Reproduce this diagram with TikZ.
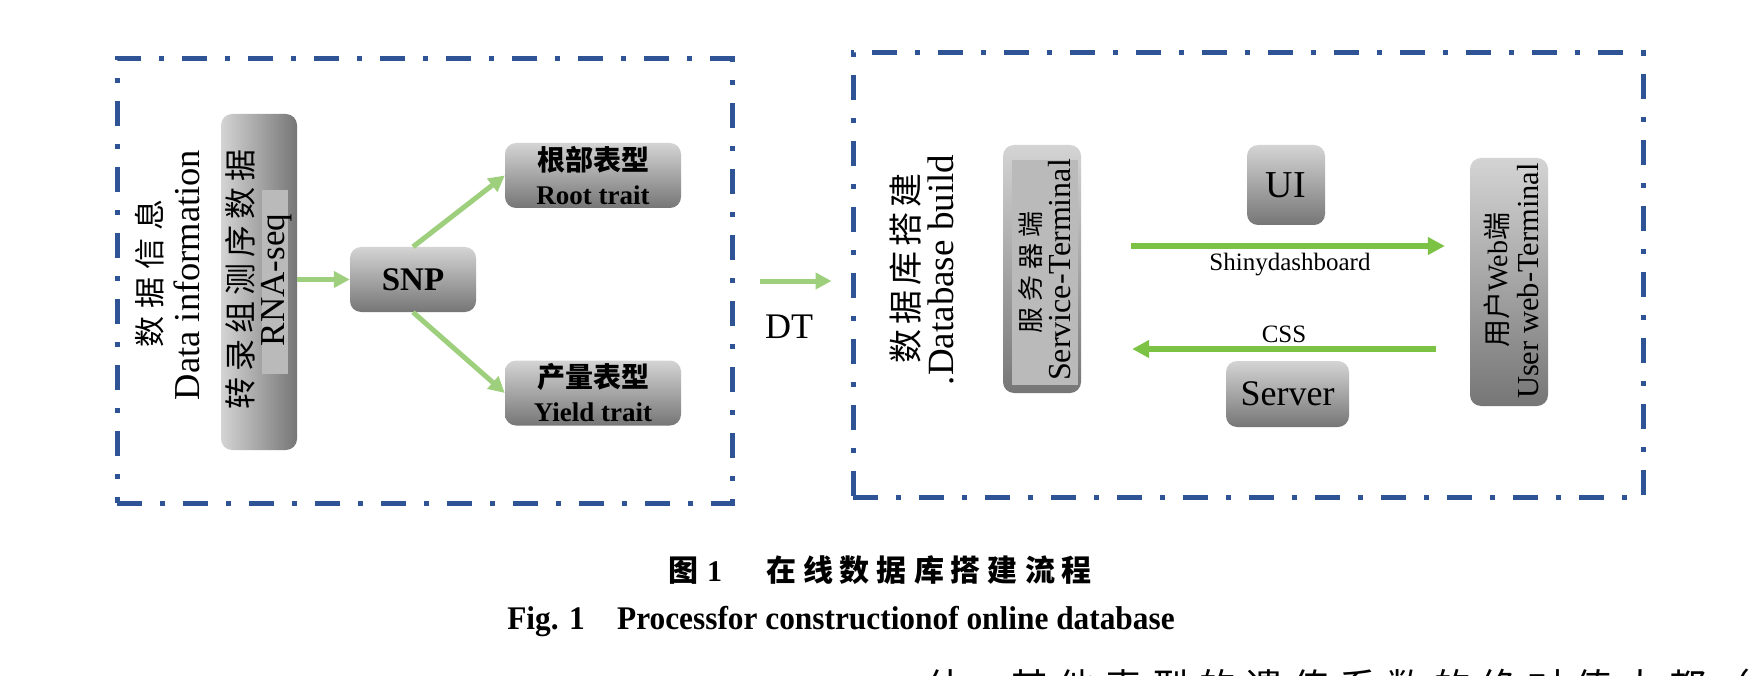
\documentclass[tikz,border=0pt]{standalone}
\usepackage{fontspec}
\setmainfont{Liberation Serif}
\newfontfamily\cjk{Noto Sans CJK SC}
\usetikzlibrary{arrows.meta}
\definecolor{dblue}{RGB}{46,84,150}
\definecolor{gL}{RGB}{158,207,124}
\definecolor{gR}{RGB}{124,194,68}
\definecolor{btop}{RGB}{212,212,212}
\definecolor{bbot}{RGB}{118,118,118}
\definecolor{binner}{RGB}{186,186,186}
\newcommand{\fs}[1]{\fontsize{#1}{#1}\selectfont}
\tikzset{
  dbox/.style={draw=dblue, line width=5pt, dash pattern=on 25pt off 18pt on 5pt off 18pt, inner sep=0pt},
  gbox/.style={rounded corners=11pt, top color=btop, bottom color=bbot, inner sep=0pt},
  hbox/.style={rounded corners=11pt, left color=btop, right color=bbot, inner sep=0pt},
  arrL/.style={draw=gL, line width=5pt, -{Triangle[length=16pt,width=16pt]}},
  arrR/.style={draw=gR, line width=6pt, -{Triangle[length=17pt,width=17pt]}},
  vt/.style={rotate=90, inner sep=0pt},
  lbl/.style={inner sep=0pt},
  trait/.style={gbox, minimum width=176pt, minimum height=65pt, align=center, font=\fontsize{27}{34}\selectfont},
}
\begin{document}
\begin{tikzpicture}[x=1pt,y=-1pt]
\useasboundingbox[fill=white] (0,0) rectangle (1755,676);

% ---------- left block ----------
\node[dbox, minimum width=615pt, minimum height=444pt] (lbox) at (424.5,281) {};
\node[vt] (t1) at (150,273) {\cjk\fs{31}数\kern8pt据\kern8pt信\kern8pt息};
\node[vt] (t2) at (187,275) {\fs{36.5}Data information};

\node[hbox, minimum width=76pt, minimum height=336pt] (rna) at (259,282) {};
\fill[binner] (262,190) rectangle (288,374);
\node[vt] (t3) at (240,279) {\cjk\fs{32}转\kern6pt录\kern6pt组\kern6pt测\kern6pt序\kern6pt数\kern6pt据};
\node[vt] (t4) at (277,280) {\fs{35}RNA-seq};

\node[gbox, minimum width=126pt, minimum height=65pt] (snp) at (413,279.5) {\fs{33}\bfseries SNP};
\node[trait] (root) at (593,175.5)
  {{\cjk\bfseries\fontsize{28}{34}\selectfont 根部表型}\\{\bfseries Root trait}};
\node[trait] (yield) at (593,393)
  {{\cjk\bfseries\fontsize{28}{34}\selectfont 产量表型}\\{\bfseries Yield trait}};

\draw[arrL] (rna.east |- snp.west) -- (snp.west);
\draw[arrL] (snp.north) -- (root.west);
\draw[arrL] (snp.south) -- (yield.west);

% ---------- link ----------
\node[dbox, minimum width=790pt, minimum height=444pt] (rbox) at (1248,275) {};
\draw[arrL, shorten <=25pt, shorten >=19pt] (lbox.east) -- (lbox.east -| rbox.west);
\node[lbl] (dt) at (789,327) {\fs{36}DT};

% ---------- right block ----------
\node[vt] (t5) at (906,268) {\cjk\fs{34}数\kern5pt据\kern5pt库\kern5pt搭\kern5pt建};
\node[vt] (t6) at (941,270) {\fs{37}.Database build};

\node[gbox, minimum width=78pt, minimum height=248pt] (svc) at (1042,269) {};
\fill[binner] (1012,160) rectangle (1078,385);
\node[vt] (t7) at (1031,272) {\cjk\fs{26}服\kern6pt务\kern6pt器\kern6pt端};
\node[vt] (t8) at (1060,270) {\fs{32}Service-Terminal};

\node[gbox, minimum width=78pt, minimum height=80pt] (ui) at (1286,185) {\fs{38}UI};
\node[gbox, minimum width=123pt, minimum height=66pt] (srv) at (1287.5,394) {\fs{36}Server};

\node[gbox, minimum width=78pt, minimum height=248pt] (usr) at (1509,282) {};
\node[vt] (t9) at (1497,280) {\fs{28}{\cjk 用户}Web{\cjk 端}};
\node[vt] (t10) at (1528,281) {\fs{30.5}User web-Terminal};

\coordinate (shy) at (0,246);
\coordinate (cssy) at (0,349);
\draw[arrR, shorten <=50pt, shorten >=25pt] (svc.east |- shy) -- (usr.west |- shy);
\node[lbl] (shl) at (1290,265) {\fs{25}Shinydashboard};
\draw[arrR, shorten <=34pt, shorten >=51pt] (usr.west |- cssy) -- (svc.east |- cssy);
\node[lbl] (cssl) at (1284,334) {\fs{25}CSS};

% ---------- captions ----------
\node[lbl] (cap1) at (880,570) {\fs{30}{\cjk\bfseries 图}\kern9pt{\bfseries 1}\hspace{44pt}{\cjk\bfseries 在\kern7pt线\kern7pt数\kern7pt据\kern7pt库\kern7pt搭\kern7pt建\kern7pt流\kern7pt程}};
\node[lbl] (cap2) at (841,622) {\scalebox{0.95}[1]{\fs{33}\bfseries Fig. 1\hspace{34pt}Processfor constructionof online database}};
\node[lbl, anchor=base west] (cut) at (926,701) {\cjk\fs{38}估，\hspace{8pt}其\kern9pt他\kern9pt表\kern9pt型\kern9pt的\kern9pt遗\kern9pt传\kern9pt系\kern9pt数\kern9pt的\kern9pt绝\kern9pt对\kern9pt值\kern9pt大\kern9pt都\kern6pt（};
\end{tikzpicture}
\end{document}
